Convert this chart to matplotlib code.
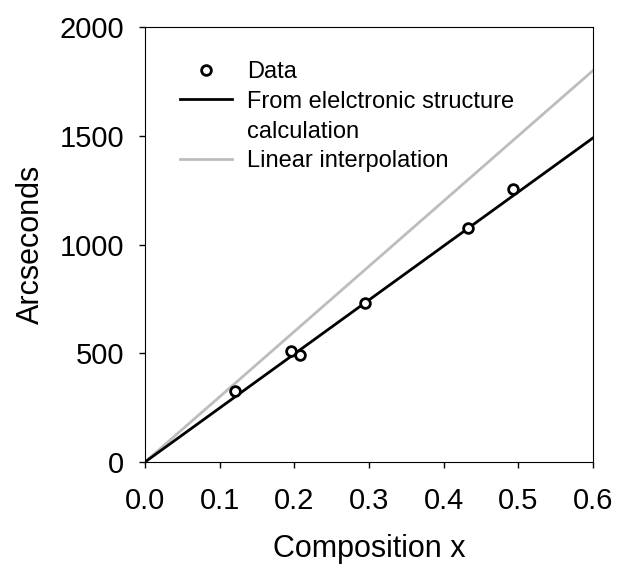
import matplotlib
matplotlib.use('Agg')
import matplotlib.pyplot as plt
from matplotlib.lines import Line2D

plt.rcParams['font.family'] = ['Liberation Sans', 'DejaVu Sans']

# measured points
comp_x = [0.12, 0.196, 0.207, 0.295, 0.432, 0.493]
arcsec = [326, 511, 492, 729, 1075, 1256]

# electronic structure calculation line
calc_x = [0.0, 0.6]
calc_y = [0, 1490]

# linear interpolation line
interp_x = [0.0, 0.6]
interp_y = [0, 1800]

xticks = [0.0, 0.1, 0.2, 0.3, 0.4, 0.5, 0.6]
xtick_labels = ['0.0', '0.1', '0.2', '0.3', '0.4', '0.5', '0.6']
yticks = [0, 500, 1000, 1500, 2000]

fig = plt.figure(figsize=(6.18, 5.65), dpi=100)
ax = fig.add_axes([145 / 618, 1 - 462 / 565, 448 / 618, 435 / 565])

interp_line, = ax.plot(interp_x, interp_y, color='#bdbdbd', lw=2, zorder=2)
calc_line, = ax.plot(calc_x, calc_y, color='black', lw=2, zorder=3)
data_pts, = ax.plot(comp_x, arcsec, 'o', mfc='white', mec='black', mew=2, ms=7, ls='none', zorder=4)

ax.set_xlim(0, 0.6)
ax.set_ylim(0, 2000)
ax.set_xticks(xticks)
ax.set_xticklabels(xtick_labels)
ax.set_yticks(yticks)
ax.tick_params(direction='out', length=4, width=1, labelsize=21)
ax.tick_params(axis='x', pad=14)
ax.tick_params(axis='y', pad=11)
ax.set_xlabel('Composition x', fontsize=22, labelpad=14)
ax.set_ylabel('Arcseconds', fontsize=22, labelpad=10)

# second line of the calc label gets a blank handle so the black line sits on the first line
blank = Line2D([], [], color='none')
ax.legend([data_pts, calc_line, blank, interp_line],
          ['Data', 'From elelctronic structure', 'calculation', 'Linear interpolation'],
          loc='upper left', bbox_to_anchor=(0.078, 0.922), frameon=False,
          fontsize=17, handlelength=2.2, handletextpad=0.64, labelspacing=0.33,
          borderaxespad=0, borderpad=0)

fig.savefig('out.png', dpi=100)
